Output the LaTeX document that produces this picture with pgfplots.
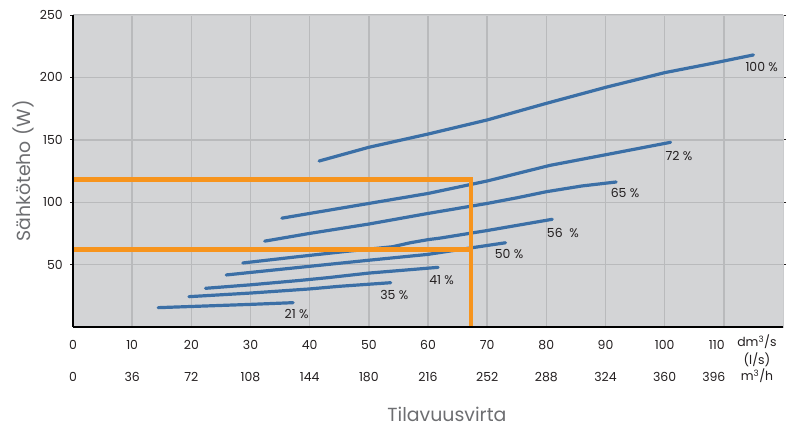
\documentclass[border=0pt]{standalone}
\usepackage{pgfplots}
\pgfplotsset{compat=1.18}
\usepackage{fontspec}
\setmainfont{Poppins}
\definecolor{bg}{HTML}{D3D4D6}
\definecolor{gridc}{HTML}{B9BABC}
\definecolor{border}{HTML}{CACBCD}
\definecolor{blu}{HTML}{3B6FA6}
\definecolor{org}{HTML}{F7941D}
\definecolor{txt}{HTML}{231F20}
\definecolor{lab}{HTML}{6D6E71}
\begin{document}
\begin{tikzpicture}
\path[use as bounding box] (-73bp,-100bp) rectangle (716bp,327bp);
\begin{axis}[
  at={(0,0)}, anchor=south west,
  scale only axis, width=710bp, height=312bp,
  xmin=0, xmax=120, ymin=0, ymax=250,
  clip=false,
  axis background/.style={fill=bg},
  axis line style={draw=border, line width=1bp},
  grid=major, grid style={draw=gridc, line width=1.4bp},
  xtick={0,10,...,110},
  xticklabels={{\strut 0\\[16bp]0},{\strut 10\\[16bp]36},{\strut 20\\[16bp]72},{\strut 30\\[16bp]108},{\strut 40\\[16bp]144},{\strut 50\\[16bp]180},{\strut 60\\[16bp]216},{\strut 70\\[16bp]252},{\strut 80\\[16bp]288},{\strut 90\\[16bp]324},{\strut 100\\[16bp]360},{\strut 110\hspace*{14bp}\\[16bp]396\hspace*{20bp}}},
  extra x ticks={115.6},
  extra x tick labels={{\strut dm\textsuperscript{3}/s\\(l/s)\\m\textsuperscript{3}/h}},
  extra x tick style={grid=none, major tick length=0pt},
  xtick style={draw=none},
  x tick label style={align=center, anchor=north, inner sep=0pt, yshift=-8bp, font=\fontsize{12.5}{16}\selectfont, text=txt},
  ytick={50,100,150,200,250},
  ytick style={draw=txt, line width=1bp},
  tick align=outside, major tick length=3bp,
  y tick label style={anchor=east, inner sep=0pt, xshift=-7bp, font=\fontsize{12.5}{16}\selectfont, text=txt},
  /pgf/number format/assume math mode=true,
  ylabel={Sähköteho (W)},
  ylabel style={at={(axis description cs:-0.0704,0.5)}, anchor=center, font=\fontsize{19}{22}\selectfont, text=lab},
]
% 100 %
\addplot[blu, line width=3.2bp, line join=round, line cap=round] coordinates {(41.6,133) (50,144) (60,154.6) (70,165.9) (80,179.2) (90,192) (100,203.8) (108,211.2) (115,218)};
% 72 %
\addplot[blu, line width=3.2bp, line join=round, line cap=round] coordinates {(35.3,87.2) (40,91) (50,99) (60,107) (70,117) (80.6,129.5) (90,138) (101,148)};
% 65 %
\addplot[blu, line width=3.2bp, line join=round, line cap=round] coordinates {(32.4,68.8) (40,75) (50,82.5) (60,91) (70,99) (75,103.5) (80,108.4) (86,113) (91.8,116.2)};
% 56 %
\addplot[blu, line width=3.2bp, line join=round, line cap=round] coordinates {(28.7,51.3) (38.3,56.5) (46,60.5) (54,64.3) (57,67.5) (60,70) (62,71.2) (70,77.3) (81,86.3)};
% 50 %
\addplot[blu, line width=3.2bp, line join=round, line cap=round] coordinates {(25.9,41.7) (38.3,47.8) (50,53.5) (60,58.2) (65,61.8) (73.1,67.5)};
% 41 %
\addplot[blu, line width=3.2bp, line join=round, line cap=round] coordinates {(22.4,31) (30,33.8) (38.3,37.3) (43,39.5) (50,43.2) (61.7,47.8)};
% 35 %
\addplot[blu, line width=3.2bp, line join=round, line cap=round] coordinates {(19.6,24.3) (30,27.2) (40,30.5) (45,32.6) (53.7,35.5)};
% 21 %
\addplot[blu, line width=3.2bp, line join=round, line cap=round] coordinates {(14.4,15.5) (29.9,18.1) (37.2,19.5)};
% orange guides
\addplot[org, line width=4.6bp] coordinates {(0,118) (67.3,118) (67.3,0)};
\addplot[org, line width=4.6bp] coordinates {(0,62) (67.3,62)};
% axis lines
\draw[black, line width=2bp] (rel axis cs:0,1) -- (rel axis cs:0,0);
\draw[black, line width=2.6bp] (rel axis cs:0,0) -- (rel axis cs:1,0);
% labels
\begin{scope}[every node/.style={font=\fontsize{12.5}{16}\selectfont, text=txt, inner sep=0pt}]
\node at (axis cs:116.4,208.3) {100 \%};
\node at (axis cs:102.4,137) {72 \%};
\node at (axis cs:93.3,107.4) {65 \%};
\node at (axis cs:82.8,75.3) {56\ \ \%};
\node at (axis cs:73.7,58.5) {50 \%};
\node at (axis cs:62.3,37.7) {41 \%};
\node at (axis cs:54.3,25.6) {35 \%};
\node at (axis cs:37.8,10.4) {21 \%};
\end{scope}
\node[anchor=base, font=\fontsize{19}{22}\selectfont, text=lab, inner sep=0pt] at (axis cs:63.2,0) [yshift=-94bp] {Tilavuusvirta};
\end{axis}
\end{tikzpicture}
\end{document}
